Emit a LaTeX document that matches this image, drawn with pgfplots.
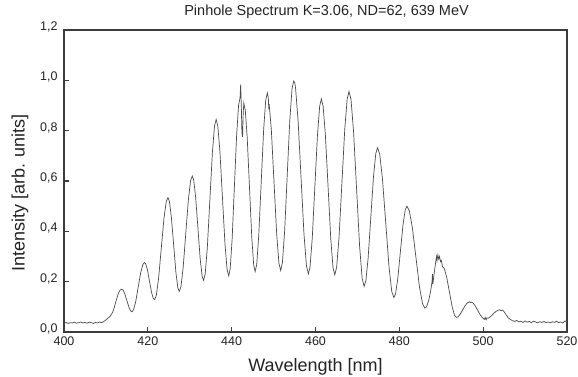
\documentclass[border=0pt]{standalone}
\usepackage{pgfplots}
\pgfplotsset{compat=1.18}
\usepackage{fontspec}
\setmainfont{Liberation Sans}
\definecolor{linegray}{RGB}{75,75,75}
\definecolor{framegray}{RGB}{60,60,60}
\definecolor{textgray}{RGB}{35,35,35}
\begin{document}
\begin{tikzpicture}
\useasboundingbox (-64pt,-45pt) rectangle (514pt,332pt);
\begin{axis}[
  at={(0,0)}, anchor=south west,
  scale only axis,
  width=503pt, height=302pt,
  xmin=400, xmax=520, ymin=0, ymax=1.2,
  xtick={400,420,...,520},
  ytick={0,0.2,...,1.2},
  tick align=inside,
  xtick pos=bottom, ytick pos=left,
  major tick length=5pt,
  axis line style={framegray, line width=1.4pt},
  every tick/.style={framegray, line width=1.2pt},
  /pgf/number format/assume math mode=true,
  yticklabel style={/pgf/number format/use comma, /pgf/number format/fixed, /pgf/number format/fixed zerofill, /pgf/number format/precision=1, xshift=-3pt, yshift=3pt},
  xticklabel style={/pgf/number format/1000 sep={}, yshift=-1pt},
  tick label style={font=\fontsize{12.5}{14}\selectfont, text=textgray},
  every axis title shift=0pt,
  title={Pinhole Spectrum K=3.06, ND=62, 639 MeV},
  title style={at={(axis description cs:0.522,1.06)}, anchor=center, font=\fontsize{14.5}{16}\selectfont, text=textgray},
  xlabel={Wavelength [nm]},
  xlabel style={at={(axis description cs:0.5,-0.116)}, anchor=center, font=\fontsize{18}{20}\selectfont, text=textgray},
  ylabel={Intensity [arb. units]},
  ylabel style={at={(axis description cs:-0.0875,0.46)}, anchor=center, font=\fontsize{18}{20}\selectfont, text=textgray},
]
\addplot[linegray, line width=0.7pt] table {
x y
400 0.035
400.5 0.038
401 0.034
401.5 0.037
402 0.036
402.5 0.039
403 0.035
403.5 0.037
404 0.040
404.5 0.036
405 0.038
405.5 0.035
406 0.039
406.5 0.037
407 0.034
407.5 0.038
408 0.036
408.5 0.040
409 0.037
409.5 0.042
410 0.048
410.5 0.055
411 0.062
411.3 0.070
411.6 0.078
412 0.098
412.5 0.128
413 0.155
413.4 0.167
413.8 0.170
414.11 0.166
414.52 0.151
415.0 0.125
415.48 0.099
415.89 0.084
416.2 0.080
416.59 0.088
417.1 0.120
417.7 0.178
418.3 0.236
418.81 0.268
419.2 0.276
419.51 0.270
419.92 0.246
420.4 0.202
420.88 0.158
421.29 0.134
421.6 0.128
422.02 0.145
422.56 0.212
423.2 0.331
423.84 0.450
424.38 0.517
424.8 0.534
425.15 0.519
425.61 0.457
426.15 0.348
426.69 0.238
427.15 0.176
427.5 0.161
427.9 0.180
428.43 0.256
429.05 0.391
429.67 0.525
430.2 0.601
430.6 0.620
430.95 0.603
431.41 0.535
431.95 0.413
432.49 0.290
432.95 0.222
433.3 0.205
433.69 0.231
434.2 0.337
434.8 0.525
435.4 0.713
435.91 0.819
436.3 0.845
436.69 0.819
437.2 0.717
437.8 0.534
438.4 0.351
438.91 0.248
439.3 0.223
439.65 0.252
440.11 0.369
440.65 0.578
441.19 0.784
441.65 0.901
442.0 0.930
442.15 0.984
442.3 0.900
442.45 0.790
442.6 0.775
442.75 0.870
442.9 0.910
443.05 0.895
443.25 0.883
443.71 0.772
444.25 0.575
444.79 0.378
445.25 0.267
445.6 0.240
445.98 0.269
446.47 0.386
447.05 0.595
447.63 0.804
448.12 0.921
448.5 0.950
448.75 0.930
448.85 0.885
448.95 0.905
449.46 0.805
450.1 0.597
450.74 0.389
451.28 0.273
451.7 0.244
452.1 0.275
452.63 0.399
453.25 0.621
453.87 0.842
454.4 0.966
454.8 0.997
455.05 0.990
455.2 0.975
455.26 0.966
455.85 0.839
456.55 0.614
457.25 0.389
457.85 0.262
458.3 0.231
458.7 0.259
459.23 0.374
459.85 0.579
460.47 0.783
461.0 0.898
461.4 0.926
461.82 0.897
462.36 0.782
463.0 0.577
463.64 0.371
464.18 0.256
464.6 0.227
465.04 0.257
465.62 0.377
466.3 0.592
466.98 0.806
467.56 0.926
468.0 0.956
468.47 0.924
469.08 0.796
469.8 0.569
470.52 0.341
471.13 0.213
471.6 0.181
472.02 0.204
472.56 0.295
473.2 0.457
473.84 0.618
474.38 0.709
474.8 0.732
475.31 0.708
475.97 0.609
476.75 0.435
477.53 0.260
478.19 0.161
478.7 0.137
479.1 0.152
479.63 0.212
480.25 0.319
480.87 0.425
481.4 0.485
481.8 0.500
482.36 0.483
483.09 0.417
483.95 0.298
484.81 0.178
485.54 0.112
486.1 0.095
486.5 0.100
487.0 0.125
487.5 0.165
487.8 0.200
487.9 0.230
488.0 0.190
488.1 0.205
488.4 0.245
488.7 0.280
488.9 0.300
489.0 0.285
489.2 0.306
489.4 0.290
489.6 0.300
489.8 0.280
490.0 0.285
490.3 0.260
490.73 0.252
491.29 0.218
491.95 0.159
492.61 0.100
493.17 0.066
493.6 0.058
494.0 0.060
494.53 0.071
495.15 0.089
495.77 0.107
496.3 0.116
496.7 0.120
496.9 0.117
497.1 0.119
497.52 0.116
498.06 0.105
498.7 0.086
499.34 0.067
499.88 0.056
500.3 0.050
500.5 0.058
500.7 0.048
500.9 0.056
501.3 0.055
501.8 0.062
502.4 0.072
503.0 0.081
503.5 0.086
503.9 0.088
504.3 0.085
504.6 0.087
505.0 0.080
505.5 0.068
506.0 0.056
506.5 0.050
507 0.045
507.5 0.042
508 0.046
508.5 0.040
509 0.043
509.5 0.038
510 0.044
510.5 0.039
511 0.042
511.5 0.037
512 0.043
512.5 0.040
513 0.036
513.5 0.041
514 0.038
514.5 0.042
515 0.037
515.5 0.040
516 0.036
516.5 0.041
517 0.038
517.5 0.043
518 0.037
518.5 0.040
519 0.036
519.5 0.044
520 0.039
};
\end{axis}
\end{tikzpicture}
\end{document}
